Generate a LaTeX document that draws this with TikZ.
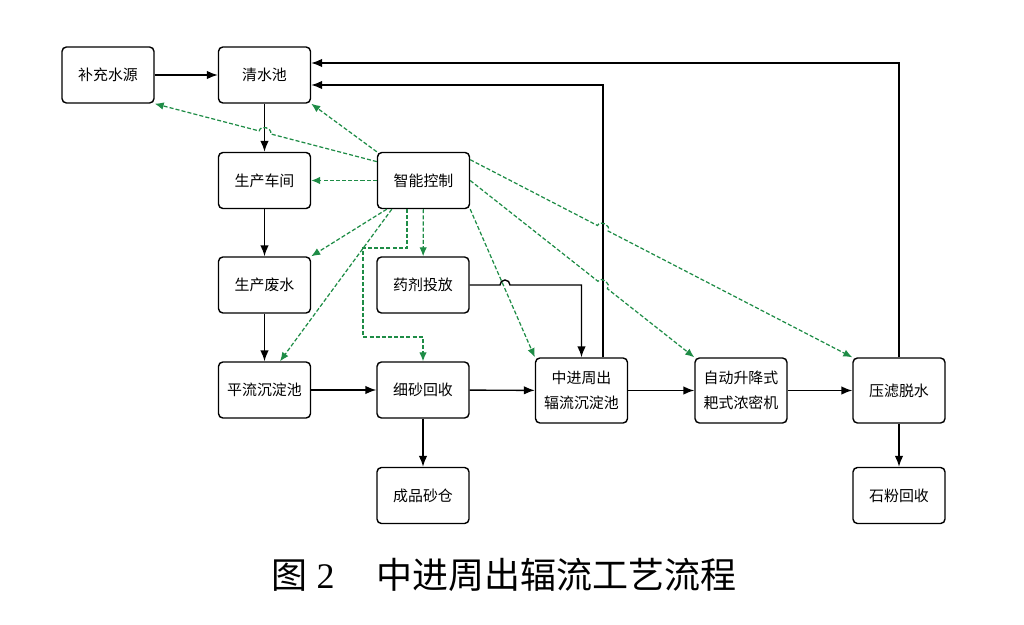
\documentclass[tikz,border=0pt]{standalone}
\usepackage{fontspec}
\setmainfont{Liberation Serif}
\newfontfamily\cjk{Noto Sans CJK SC}
\usetikzlibrary{arrows.meta,calc}
\definecolor{ctrlgreen}{RGB}{30,140,70}

\begin{document}
\begin{tikzpicture}[x=0.02cm, y=-0.02cm, >={Latex[length=2.2mm,width=1.7mm]},
    box/.style={rectangle, rounded corners=2.5pt, line width=0.8pt, draw, minimum width=1.84cm, minimum height=1.12cm, align=center, font=\cjk\fontsize{8.5pt}{14pt}\selectfont},
    tallbox/.style={box, minimum height=1.3cm},
    flow/.style={->, line width=0.8pt},
    signal/.style={->, ctrlgreen, line width=0.7pt, dash pattern=on 2.3pt off 1.2pt, >={Latex[length=1.8mm,width=1.5mm]}},
    hop/.style={looseness=1.4}]
    \useasboundingbox (0,0) rectangle (1024,625);

        % Water and waste column.
        \node[box] (src) at (108,75) {补充水源};
        \node[box] (pool) at (264.5,75) {清水池};
        \node[box] (shop) at (264.5,180.5) {生产车间};
        \node[box] (waste) at (264.5,285) {生产废水};
        \node[box] (flat) at (264.5,390) {平流沉淀池};

        % Control column.
        \node[box] (ctrl) at (423.5,180.5) {智能控制};
        \node[box] (dose) at (423,285) {药剂投放};
        \node[box] (sand) at (423,390) {细砂回收};
        \node[box] (silo) at (423,495.5) {成品砂仓};

        % Settling and dewatering.
        \node[tallbox] (rad) at (581.5,390.5) {中进周出\\辐流沉淀池};
        \node[tallbox] (thick) at (741,390.5) {自动升降式\\耙式浓密机};
        \node[tallbox] (press) at (899,390.5) {压滤脱水};
        \node[box] (powder) at (899,495.5) {石粉回收};

        % Caption.
        \node[font=\fontsize{20.5pt}{24pt}\selectfont] (caption) at (504,575) {{\cjk 图}~2\hspace{1.15em}{\cjk 中进周出辐流工艺流程}};

        % Main flow.
        \foreach \source/\dest in {src/pool, pool/shop, shop/waste, waste/flat, flat/sand, sand/rad, rad/thick, thick/press, sand/silo, press/powder}
            \path[flow] (\source) edge (\dest);

        % Water back to the clear pool.
        \draw[flow] (press.north) |- ([yshift=0.24cm]pool.east);
        \draw[flow] ([xshift=0.43cm]rad.north) |- ([yshift=-0.2cm]pool.east);

        % Dosing, hopping over a control line.
        \coordinate (hopdose) at (500,285);
        \draw[flow] (dose.east) -- (dose.east -| hopdose) arc[start angle=180, end angle=0, radius=0.1cm] -- (dose.east -| rad.north) -- (rad.north);

        % Control lines.
        \coordinate (bendA) at (363,248);
        \coordinate (bendB) at (423,337);
        \draw[signal] (ctrl.158) -- ($(ctrl.158)!0.478!(src.south east)$) to[bend right=90, hop] ($(ctrl.158)!0.530!(src.south east)$) -- (src.south east);
        \draw[signal] (ctrl.north west) -- (pool.south east);
        \draw[signal] (ctrl) -- (shop);
        \draw[signal] ([xshift=0.2cm]ctrl.south west) -- (waste.north east);
        \draw[signal] ([xshift=0.3cm]ctrl.south west) -- ([xshift=0.31cm]flat.north);
        \draw[signal] ([xshift=-0.33cm]ctrl.south) |- (bendA) |- (bendB) -- (sand.north);
        \draw[signal] (ctrl) -- (dose);
        \draw[signal] (ctrl.south east) -- (rad.north west);
        \draw[signal] (ctrl.east) -- ($(ctrl.east)!0.570!(thick.north west)$) to[bend left=90, hop] ($(ctrl.east)!0.612!(thick.north west)$) -- (thick.north west);
        \draw[signal] (ctrl.24) -- ($(ctrl.24)!0.333!(press.north west)$) to[bend left=90, hop] ($(ctrl.24)!0.361!(press.north west)$) -- (press.north west);

    \end{tikzpicture}
\end{document}
